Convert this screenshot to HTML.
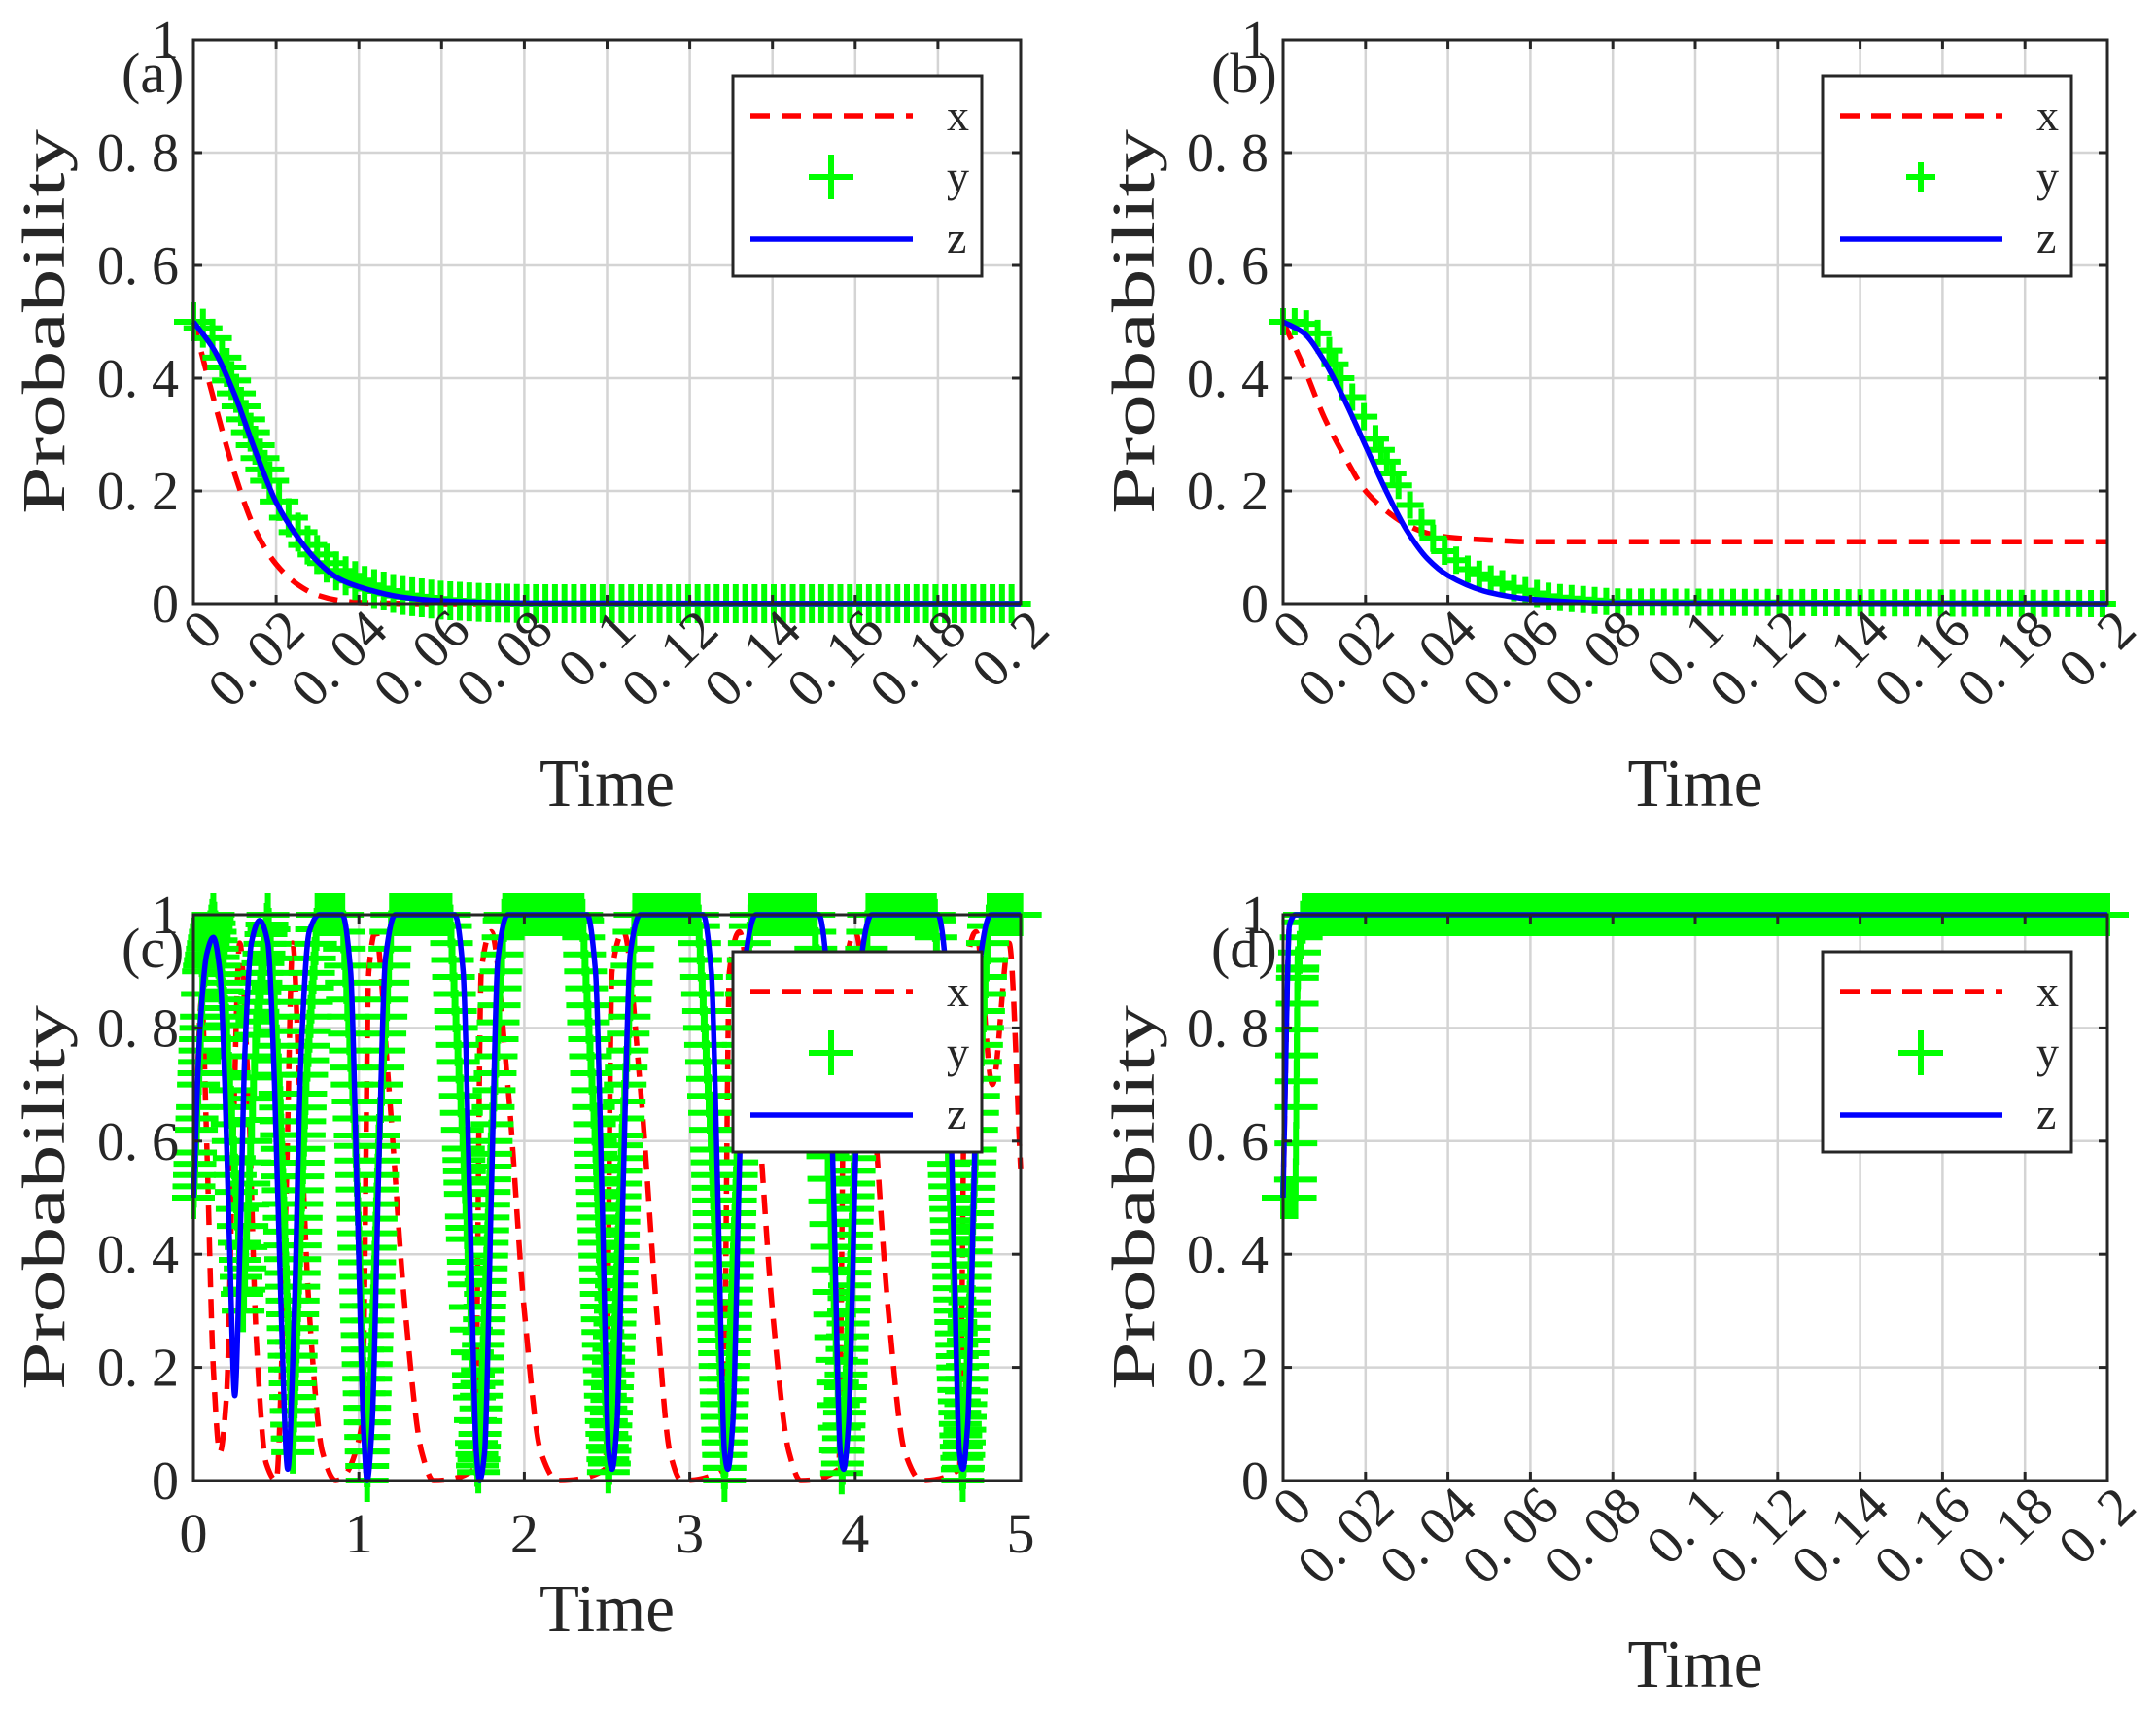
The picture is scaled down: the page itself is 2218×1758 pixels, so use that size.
<!DOCTYPE html>
<html><head><meta charset="utf-8"><style>
html,body{margin:0;padding:0;background:#fff;}
svg{display:block;}
text{font-family:"Liberation Serif","Noto Serif CJK SC",serif;fill:#262626;}
</style></head><body>
<svg id="fig" width="2218" height="1758" viewBox="0 0 2218 1758" xmlns="http://www.w3.org/2000/svg"></svg>
<script>
// ---------- DATA ----------
// Panel (a)
const aXt = [0,0.005,0.01,0.015,0.02,0.025,0.03,0.035,0.04,0.06,0.2];
const aXv = [0.5,0.36,0.23,0.13,0.07,0.035,0.015,0.006,0.002,0,0];
const aZt = [0,0.005,0.01,0.015,0.02,0.025,0.03,0.035,0.04,0.05,0.06,0.08,0.2];
const aZv = [0.5,0.45,0.37,0.27,0.18,0.12,0.075,0.045,0.03,0.012,0.005,0.001,0];
const aYt = [0,0.004,0.008,0.012,0.016,0.02,0.024,0.028,0.034,0.042,0.05,0.06,0.07,0.08,0.2];
const aYv = [0.5,0.48,0.42,0.34,0.26,0.19,0.14,0.1,0.06,0.03,0.015,0.006,0.002,0,0];
// Panel (b)
const bXt = [0,0.005,0.01,0.015,0.02,0.025,0.03,0.035,0.04,0.05,0.06,0.2];
const bXv = [0.5,0.42,0.33,0.26,0.2,0.165,0.14,0.125,0.118,0.113,0.11,0.11];
const bZt = [0,0.005,0.01,0.015,0.02,0.025,0.03,0.035,0.04,0.05,0.06,0.08,0.2];
const bZv = [0.5,0.48,0.43,0.36,0.28,0.2,0.13,0.08,0.05,0.02,0.008,0.001,0];
const bYt = [0,0.005,0.01,0.014,0.019,0.024,0.028,0.032,0.038,0.045,0.055,0.065,0.08,0.2];
const bYv = [0.5,0.5,0.47,0.4,0.34,0.27,0.21,0.16,0.1,0.06,0.03,0.012,0.003,0];
// Panel (c)
const cZt = [0,0.04,0.08,0.12,0.16,0.19,0.22,0.25,0.28,0.31,0.35,0.4,0.45,0.49,0.53,0.57,0.61,0.65,0.7,0.76,0.9,0.95,0.99,1.03,1.05,1.08,1.12,1.16,1.22,1.58,1.63,1.67,1.71,1.73,1.76,1.8,1.84,1.9,2.38,2.43,2.47,2.51,2.53,2.56,2.6,2.64,2.7,3.08,3.13,3.17,3.21,3.23,3.26,3.3,3.34,3.4,3.78,3.83,3.87,3.91,3.93,3.96,4.0,4.04,4.1,4.5,4.55,4.59,4.63,4.65,4.68,4.72,4.76,4.82,5];
const cZv = [0.5,0.8,0.93,0.96,0.9,0.7,0.4,0.15,0.4,0.75,0.95,0.99,0.95,0.7,0.3,0.02,0.3,0.75,0.97,1,1,0.9,0.5,0.08,0,0.1,0.55,0.92,1,1,0.9,0.5,0.05,0,0.05,0.5,0.92,1,1,0.9,0.5,0.05,0.02,0.1,0.55,0.93,1,1,0.9,0.5,0.05,0.02,0.1,0.55,0.93,1,1,0.9,0.5,0.05,0.02,0.1,0.55,0.93,1,1,0.9,0.5,0.05,0.02,0.1,0.55,0.93,1,1];
const cXt = [0,0.05,0.08,0.12,0.16,0.2,0.24,0.28,0.33,0.38,0.44,0.5,0.56,0.6,0.64,0.7,0.78,0.86,1.02,1.06,1.1,1.18,1.28,1.38,1.45,1.7,1.74,1.8,1.9,2.0,2.1,2.2,2.49,2.53,2.6,2.7,2.8,2.88,2.95,3.2,3.24,3.3,3.4,3.5,3.6,3.67,3.9,3.94,4.0,4.1,4.2,4.3,4.4,4.63,4.67,4.73,4.83,4.93,5];
const cXv = [0.5,0.85,0.6,0.2,0.05,0.15,0.6,0.95,0.7,0.25,0.03,0,0.5,0.95,0.7,0.3,0.05,0,0.1,0.9,0.97,0.7,0.3,0.05,0,0.02,0.9,0.97,0.7,0.3,0.05,0,0.02,0.9,0.97,0.7,0.3,0.05,0,0.02,0.9,0.97,0.7,0.3,0.05,0,0.02,0.9,0.97,0.7,0.3,0.05,0,0.02,0.9,0.97,0.7,0.95,0.55];
const cYt = [0,0.06,0.12,0.2,0.3,0.38,0.45,0.52,0.6,0.68,0.75,0.9,0.98,1.05,1.12,1.2,1.55,1.63,1.72,1.8,1.88,2.35,2.43,2.51,2.59,2.67,3.05,3.13,3.21,3.29,3.37,3.75,3.83,3.92,4.0,4.08,4.48,4.56,4.65,4.73,4.81,5];
const cYv = [0.5,0.9,1,0.8,0.3,0.8,1,0.7,0.05,0.7,1,1,0.6,0,0.6,1,1,0.6,0,0.6,1,1,0.6,0,0.6,1,1,0.6,0,0.6,1,1,0.6,0,0.6,1,1,0.6,0,0.6,1,1];
// Panel (d)
const dXt = [0,0.0008,0.0015,0.003,0.2];
const dXv = [0.5,0.8,0.98,1,1];
const dZt = [0,0.0008,0.0015,0.003,0.2];
const dZv = [0.5,0.8,0.98,1,1];
const dYt = [0,0.003,0.0035,0.005,0.2];
const dYv = [0.5,0.5,0.9,1,1];
// Tick labels
const yTickVals = [0,0.2,0.4,0.6,0.8,1];
const yTickLabels = ["0","0. 2","0. 4","0. 6","0. 8","1"];
const xTickValsSmall = [0,0.02,0.04,0.06,0.08,0.1,0.12,0.14,0.16,0.18,0.2];
const xTickLabelsSmall = ["0","0. 02","0. 04","0. 06","0. 08","0. 1","0. 12","0. 14","0. 16","0. 18","0. 2"];
const xTickValsC = [0,1,2,3,4,5];
const xTickLabelsC = ["0","1","2","3","4","5"];

// ---------- DRAWING ----------
const NS = "http://www.w3.org/2000/svg";
const svg = document.getElementById('fig');
function mk(tag, attrs, parent){
  const e = document.createElementNS(NS, tag);
  for (const k in attrs) e.setAttribute(k, attrs[k]);
  (parent||svg).appendChild(e);
  return e;
}
function interp(ts, vs, t){
  for (let i=1;i<ts.length;i++){ if (t<=ts[i]){ const f=(t-ts[i-1])/(ts[i]-ts[i-1]||1); return vs[i-1]+f*(vs[i]-vs[i-1]); } }
  return vs[vs.length-1];
}
// monotone cubic (Fritsch-Carlson) path — no overshoot
function monoPath(pts){
  const n = pts.length;
  const dx=[], dy=[], s=[];
  for (let i=0;i<n-1;i++){ dx[i]=pts[i+1][0]-pts[i][0]; dy[i]=pts[i+1][1]-pts[i][1]; s[i]=dx[i]? dy[i]/dx[i] : 0; }
  const m=[];
  m[0]=s[0]; m[n-1]=s[n-2];
  for (let i=1;i<n-1;i++){
    if (s[i-1]*s[i]<=0) m[i]=0;
    else { const w1=2*dx[i]+dx[i-1], w2=dx[i]+2*dx[i-1]; m[i]=(w1+w2)/(w1/s[i-1]+w2/s[i]); }
  }
  let d='M'+pts[0][0]+','+pts[0][1];
  for (let i=0;i<n-1;i++){
    const h=dx[i]/3;
    d+=` C${pts[i][0]+h},${pts[i][1]+m[i]*h} ${pts[i+1][0]-h},${pts[i+1][1]-m[i+1]*h} ${pts[i+1][0]},${pts[i+1][1]}`;
  }
  return d;
}
function panel(cfg){
  const g = mk('g', {});
  
  
  const L=cfg.left, R=cfg.right, T=cfg.top, B=cfg.bottom;
  const sx = v => L + (v - cfg.xmin)/(cfg.xmax-cfg.xmin)*(R-L);
  const sy = v => B - v*(B-T);
  const grid = mk('g', {stroke:'#d4d4d4','stroke-width':2.5}, g);
  
  
  cfg.xt.forEach(v=>{ mk('line',{x1:sx(v),x2:sx(v),y1:T,y2:B},grid); });
  yTickVals.forEach(v=>{ mk('line',{x1:L,x2:R,y1:sy(v),y2:sy(v)},grid); });
  const lx = mk('path',{d:monoPath(cfg.xT.map((t,i)=>[sx(t),sy(cfg.xV[i])])),fill:'none',stroke:'#ff0000','stroke-width':5.5,'stroke-dasharray':'20 12'},g);
  
  
  const gy = mk('g',{stroke:'#00ff00','stroke-width':6},g);
  
  
  const hs = cfg.ms/2;
  let prev = null;
  for (let t=cfg.xmin; t<=cfg.xmax+1e-9; t+=cfg.dt){
    const v = interp(cfg.yT, cfg.yV, t);
    let n = 1;
    if (prev!==null) n = Math.max(1, Math.ceil(Math.abs(v-prev)/0.04));
    for (let k=1;k<=n;k++){
      const tt = (prev===null)? t : t - cfg.dt + cfg.dt*k/n;
      const vv = interp(cfg.yT, cfg.yV, tt);
      const cx=sx(tt), cy=sy(vv);
      mk('path',{d:`M${cx-hs},${cy}H${cx+hs}M${cx},${cy-hs}V${cy+hs}`},gy);
    }
    prev = v;
  }
  const lz = mk('path',{d:monoPath(cfg.zT.map((t,i)=>[sx(t),sy(cfg.zV[i])])),fill:'none',stroke:'#0000ff','stroke-width':5.5,'stroke-linejoin':'round'},g);
  
  
  const box = mk('rect',{x:L,y:T,width:R-L,height:B-T,fill:'none',stroke:'#262626','stroke-width':3},g);
  
  
  const tk = mk('g',{stroke:'#262626','stroke-width':3},g);
  cfg.xt.forEach(v=>{ mk('line',{x1:sx(v),x2:sx(v),y1:B,y2:B-9},tk); mk('line',{x1:sx(v),x2:sx(v),y1:T,y2:T+9},tk); });
  yTickVals.forEach(v=>{ mk('line',{x1:L,x2:L+9,y1:sy(v),y2:sy(v)},tk); mk('line',{x1:R,x2:R-9,y1:sy(v),y2:sy(v)},tk); });
  yTickVals.forEach((v,i)=>{
    const t = mk('text',{x:L-15,y:sy(v)+19,'font-size':56,'text-anchor':'end'},g);
    t.textContent = yTickLabels[i];
    
    
  });
  cfg.xt.forEach((v,i)=>{
    let t;
    if (cfg.rot){
      const x=sx(v)+32, y=B+30;
      t = mk('text',{x:x,y:y,'font-size':56,'text-anchor':'end',transform:`rotate(-45 ${x} ${y})`},g);
    } else {
      t = mk('text',{x:sx(v),y:B+74,'font-size':58,'text-anchor':'middle'},g);
    }
    t.textContent = cfg.xl[i];
    
    
  });
  const cyT=(T+B)/2, ax = L-133;
  const yt = mk('text',{x:ax,y:cyT,'font-size':62,'text-anchor':'middle',textLength:396,lengthAdjust:'spacingAndGlyphs',transform:`rotate(-90 ${ax} ${cyT})`},g);
  yt.textContent='Probability';
  
  
  const xt = mk('text',{x:(L+R)/2,y:cfg.timeY,'font-size':70,'text-anchor':'middle',textLength:139,lengthAdjust:'spacingAndGlyphs'},g);
  xt.textContent='Time';
  
  
  const pl = mk('text',{x:L-74,y:T+54,'font-size':58},g);
  pl.textContent='('+cfg.id+')';
  
  
  const lg = mk('g',{},g);
  
  
  const lx0=L+555, ly0=cfg.legTop;
  mk('rect',{x:lx0,y:ly0,width:256,height:206,fill:'#fff',stroke:'#262626','stroke-width':3},lg);
  mk('line',{x1:lx0+18,x2:lx0+185,y1:ly0+41,y2:ly0+41,stroke:'#ff0000','stroke-width':5.5,'stroke-dasharray':'20 12'},lg);
  const lm = cfg.legMs/2, lcx=lx0+101, lcy=ly0+104;
  mk('path',{d:`M${lcx-lm},${lcy}H${lcx+lm}M${lcx},${lcy-lm}V${lcy+lm}`,stroke:'#00ff00','stroke-width':6},lg);
  mk('line',{x1:lx0+18,x2:lx0+185,y1:ly0+168,y2:ly0+168,stroke:'#0000ff','stroke-width':5.5},lg);
  ['x','y','z'].forEach((s,i)=>{
    const t = mk('text',{x:lx0+220,y:ly0+56+i*63,'font-size':46},lg);
    t.textContent=s;
    
    
  });
}
panel({id:'a',left:199,right:1050,top:41,bottom:621,xmin:0,xmax:0.2,xt:xTickValsSmall,xl:xTickLabelsSmall,rot:true,
  xT:aXt,xV:aXv,yT:aYt,yV:aYv,zT:aZt,zV:aZv,dt:0.0023,ms:40,legMs:46,legTop:78,timeY:829});
panel({id:'b',left:1320,right:2168,top:41,bottom:621,xmin:0,xmax:0.2,xt:xTickValsSmall,xl:xTickLabelsSmall,rot:true,
  xT:bXt,xV:bXv,yT:bYt,yV:bYv,zT:bZt,zV:bZv,dt:0.0028,ms:28,legMs:30,legTop:78,timeY:829});
panel({id:'c',left:199,right:1050,top:941,bottom:1523,xmin:0,xmax:5,xt:xTickValsC,xl:xTickLabelsC,rot:false,
  xT:cXt,xV:cXv,yT:cYt,yV:cYv,zT:cZt,zV:cZv,dt:0.006,ms:44,legMs:46,legTop:979,timeY:1678});
panel({id:'d',left:1320,right:2168,top:941,bottom:1523,xmin:0,xmax:0.2,xt:xTickValsSmall,xl:xTickLabelsSmall,rot:true,
  xT:dXt,xV:dXv,yT:dYt,yV:dYv,zT:dZt,zV:dZv,dt:0.0004,ms:44,legMs:46,legTop:979,timeY:1735});
</script>
</body></html>
